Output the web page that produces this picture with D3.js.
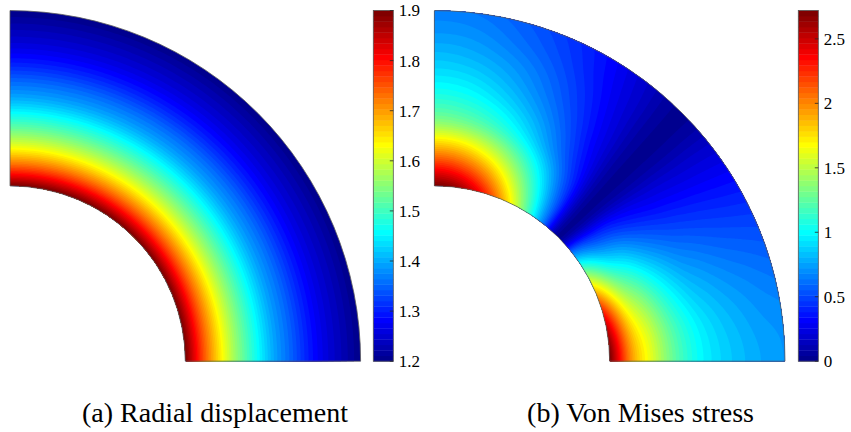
<!DOCTYPE html>
<html>
<head>
<meta charset="utf-8">
<script src="https://cdn.jsdelivr.net/npm/d3@7"></script>
<style>
  html, body { margin: 0; padding: 0; background: #fff; }
  svg { display: block; }
  text { font-family: "Liberation Serif", "DejaVu Serif", serif; fill: #000; }
</style>
</head>
<body>
<svg id="fig" width="851" height="432"></svg>
<script>
// ---- radial displacement: profile along the radius (r = 1 hole edge, r = 2 outer edge)
const dispRadii  = [1.0, 1.1, 1.2, 1.3, 1.4, 1.5, 1.6, 1.7, 1.8, 1.9, 2.0];
const dispValues = [1.90, 1.76, 1.645, 1.55, 1.47, 1.40, 1.35, 1.30, 1.26, 1.23, 1.20];
const dispRange  = [1.2, 1.9];
const dispTicks  = [1.2, 1.3, 1.4, 1.5, 1.6, 1.7, 1.8, 1.9];

// ---- von Mises stress on a polar grid (rows: radius, columns: angle in degrees)
const stressRadii  = [1.0, 1.125, 1.25, 1.375, 1.5, 1.625, 1.75, 1.875, 2.0];
const stressAngles = [0, 7.5, 15, 22.5, 30, 37.5, 45, 52.5, 60, 67.5, 75, 82.5, 90];
const stressValues = [
  [2.72, 2.63, 2.36, 1.92, 1.36, 0.70, 0.03, 0.70, 1.36, 1.92, 2.36, 2.63, 2.72],
  [1.96, 1.89, 1.70, 1.39, 0.98, 0.51, 0.03, 0.58, 1.12, 1.58, 1.94, 2.16, 2.24],
  [1.57, 1.52, 1.36, 1.11, 0.79, 0.41, 0.03, 0.46, 0.89, 1.25, 1.53, 1.71, 1.77],
  [1.24, 1.20, 1.07, 0.88, 0.62, 0.32, 0.03, 0.35, 0.67, 0.95, 1.16, 1.29, 1.34],
  [1.02, 0.99, 0.88, 0.72, 0.51, 0.26, 0.03, 0.28, 0.55, 0.78, 0.95, 1.06, 1.10],
  [0.90, 0.87, 0.78, 0.64, 0.45, 0.23, 0.03, 0.24, 0.47, 0.66, 0.81, 0.91, 0.94],
  [0.82, 0.79, 0.71, 0.58, 0.41, 0.21, 0.03, 0.21, 0.41, 0.58, 0.71, 0.79, 0.82],
  [0.76, 0.73, 0.66, 0.54, 0.38, 0.20, 0.03, 0.19, 0.36, 0.51, 0.62, 0.70, 0.72],
  [0.72, 0.70, 0.62, 0.51, 0.36, 0.19, 0.03, 0.17, 0.33, 0.46, 0.56, 0.63, 0.65]
];
const stressRange = [0, 2.72];
const stressTicks = [0, 0.5, 1, 1.5, 2, 2.5];

const captions = ["(a) Radial displacement", "(b) Von Mises stress"];

// ---- jet colormap with 64 entries
const NCOL = 64;
function jet(k) {
  const i = k + 1;
  const r = i <= 24 ? 0 : i <= 40 ? (i - 24) / 16 : i <= 55 ? 1 : (72 - i) / 16;
  const g = i <= 8 ? 0 : i <= 24 ? (i - 8) / 16 : i <= 39 ? 1 : i <= 55 ? (56 - i) / 16 : 0;
  const b = i <= 8 ? (i + 8) / 16 : i <= 23 ? 1 : i <= 39 ? (40 - i) / 16 : 0;
  return d3.rgb(r * 255, g * 255, b * 255).formatHex();
}
const jetColors = d3.range(NCOL).map(jet);

// ---- Catmull-Rom interpolation on uniformly spaced samples
function catmull(p, t, mirror) {
  const n = p.length;
  const at = j => {
    if (j < 0) return mirror ? p[-j] : 2 * p[0] - p[1];
    if (j > n - 1) return mirror ? p[2 * (n - 1) - j] : 2 * p[n - 1] - p[n - 2];
    return p[j];
  };
  let i = Math.floor(t);
  if (i > n - 2) i = n - 2;
  if (i < 0) i = 0;
  const f = t - i;
  const p0 = at(i - 1), p1 = at(i), p2 = at(i + 1), p3 = at(i + 2);
  return 0.5 * (2 * p1 + (-p0 + p2) * f + (2 * p0 - 5 * p1 + 4 * p2 - p3) * f * f
              + (-p0 + 3 * p1 - 3 * p2 + p3) * f * f * f);
}

const rIndexDisp = d3.scaleLinear().domain(d3.extent(dispRadii)).range([0, dispRadii.length - 1]);
function dispField(r) {
  return catmull(dispValues, rIndexDisp(r), false);
}

const rIndexStress = d3.scaleLinear().domain(d3.extent(stressRadii)).range([0, stressRadii.length - 1]);
const tIndexStress = d3.scaleLinear().domain(d3.extent(stressAngles)).range([0, stressAngles.length - 1]);

// ---- layout
const svg = d3.select("#fig");
const rPx = d3.scaleLinear().domain([0, 2]).range([0, 350.6]);
const plotTop = 10.5, plotBottom = 361.2;

// polar grid used for the filled contour bands
const NT = 180, NR = 120;

function drawField(g, cx, cy, valueAt, range) {
  const values = new Float64Array(NT * NR);
  for (let i = 0; i < NT; i++) {
    const th = (i + 0.5) / NT * 90;
    const column = valueAt.column(th);
    for (let j = 0; j < NR; j++) {
      const r = 1 + (j + 0.5) / NR;
      values[j * NT + i] = column(r);
    }
  }
  const step = (range[1] - range[0]) / NCOL;
  const thresholds = d3.range(1, NCOL).map(k => range[0] + k * step);
  const contours = d3.contours().size([NT, NR]).thresholds(thresholds)(values);

  const polar = d3.geoTransform({
    point: function (x, y) {
      const th = (x / NT) * Math.PI / 2;
      const rr = rPx(1 + y / NR);
      this.stream.point(cx + rr * Math.cos(th), cy - rr * Math.sin(th));
    }
  });
  const path = d3.geoPath(polar);

  const arc = d3.arc()
    .innerRadius(rPx(1)).outerRadius(rPx(2))
    .startAngle(0).endAngle(Math.PI / 2);

  const layer = g.append("g");
  layer.append("path")
    .attr("transform", `translate(${cx},${cy})`)
    .attr("d", arc())
    .attr("fill", jetColors[0]);

  layer.selectAll("path.band")
    .data(contours)
    .join("path")
    .attr("class", "band")
    .attr("d", path)
    .attr("fill-rule", "evenodd")
    .attr("fill", (d, k) => jetColors[k + 1]);

  g.append("path")
    .attr("transform", `translate(${cx},${cy})`)
    .attr("d", arc())
    .attr("fill", "none")
    .attr("stroke", "#5c5c5c")
    .attr("stroke-width", 0.8);
}

function drawColorbar(g, x0, range, ticks) {
  const barW = 20;
  const y = d3.scaleLinear().domain(range).range([plotBottom, plotTop]);
  const color = d3.scaleQuantize().domain(range).range(jetColors);
  const step = (range[1] - range[0]) / NCOL;
  const levels = d3.range(NCOL).map(k => range[0] + k * step);

  g.append("g").selectAll("rect")
    .data(levels)
    .join("rect")
    .attr("x", x0)
    .attr("y", d => y(d + step))
    .attr("width", barW)
    .attr("height", d => y(d) - y(d + step) + 0.4)
    .attr("fill", d => color(d + step / 2));

  g.append("rect")
    .attr("x", x0).attr("y", plotTop)
    .attr("width", barW).attr("height", plotBottom - plotTop)
    .attr("fill", "none")
    .attr("stroke", "#555")
    .attr("stroke-width", 0.8);

  g.append("g").selectAll("line")
    .data(ticks)
    .join("line")
    .attr("x1", x0 + barW - 3.5).attr("x2", x0 + barW)
    .attr("y1", d => y(d)).attr("y2", d => y(d))
    .attr("stroke", "#262626")
    .attr("stroke-width", 0.8);

  g.append("g").selectAll("text")
    .data(ticks)
    .join("text")
    .attr("x", x0 + barW + 5.5)
    .attr("y", d => y(d))
    .attr("dy", "0.35em")
    .attr("font-size", 17)
    .text(d => String(d));
}

// (a) radial displacement
const gA = svg.append("g");
drawField(gA, 10, 361.2, {
  column: () => r => dispField(r)
}, dispRange);
drawColorbar(gA, 373.3, dispRange, dispTicks);

// (b) von Mises stress
const gB = svg.append("g");
drawField(gB, 434.4, 361.2, {
  column: th => {
    const t = tIndexStress(th);
    const col = stressValues.map(row => catmull(row, t, true));
    return r => catmull(col, rIndexStress(r), false);
  }
}, stressRange);
drawColorbar(gB, 798.3, stressRange, stressTicks);

// captions
svg.selectAll("text.caption")
  .data(captions)
  .join("text")
  .attr("class", "caption")
  .attr("x", (d, i) => [215, 640.5][i])
  .attr("y", 422)
  .attr("text-anchor", "middle")
  .attr("font-size", 28)
  .text(d => d);
</script>
</body>
</html>
